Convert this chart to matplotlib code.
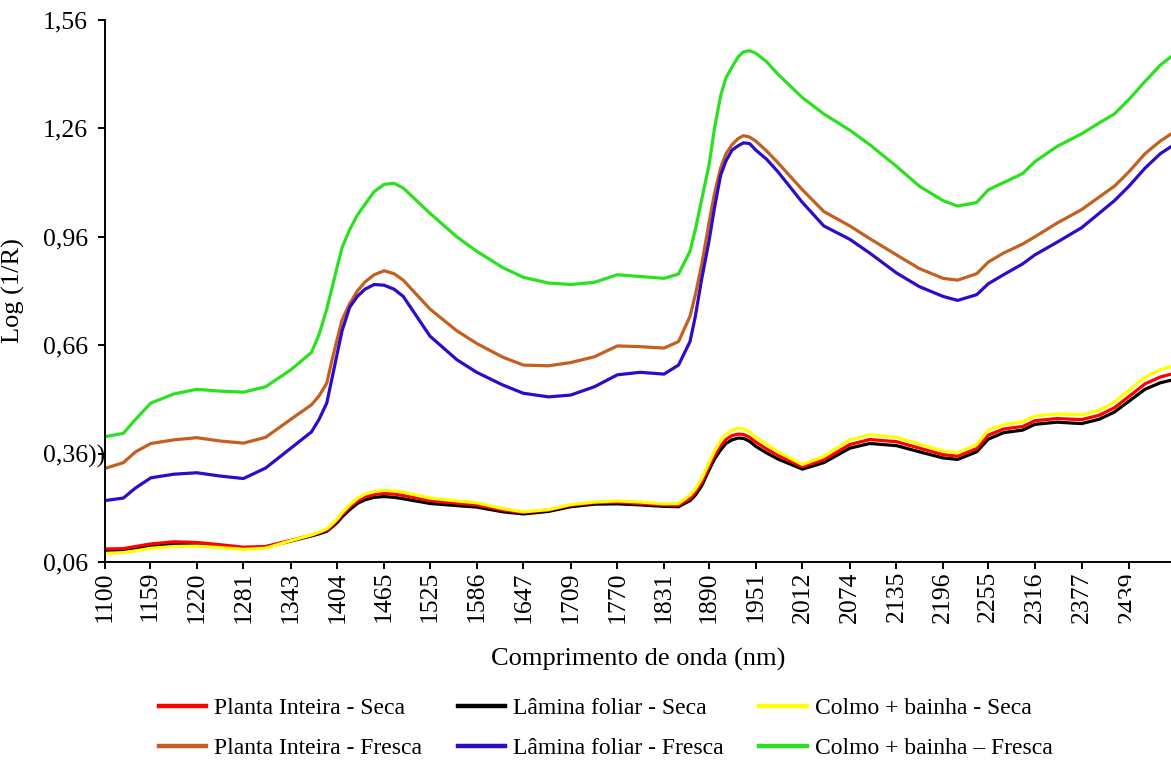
import matplotlib
matplotlib.use("Agg")
import matplotlib.pyplot as plt
from matplotlib.transforms import Bbox, IdentityTransform, TransformedBbox

plt.rcParams['font.family'] = ['Liberation Serif', 'DejaVu Serif']

# comprimento de onda (nm)
wl = [1100, 1124, 1140, 1160, 1190, 1220, 1250, 1281, 1310, 1343, 1370,
      1380, 1390, 1397, 1404, 1410, 1420, 1430, 1440, 1452, 1465, 1478, 1490,
      1525, 1560, 1586, 1620, 1647, 1680, 1709, 1740, 1770, 1800, 1831, 1850, 1865,
      1872, 1880, 1890, 1897, 1905, 1912, 1920, 1928, 1935, 1943, 1951, 1965,
      1980, 2012, 2040, 2074, 2100, 2135, 2165, 2196, 2215, 2240, 2255, 2275,
      2300, 2316, 2345, 2377, 2400, 2420, 2439, 2460, 2480, 2498]

# log(1/R) - amostras secas
planta_seca = [0.096, 0.097, 0.103, 0.110, 0.116, 0.114, 0.108, 0.101, 0.103, 0.120, 0.134,
               0.141, 0.148, 0.161, 0.175, 0.191, 0.212, 0.229, 0.240, 0.247, 0.250, 0.248, 0.244,
               0.230, 0.223, 0.218, 0.204, 0.197, 0.204, 0.217, 0.224, 0.226, 0.222, 0.218, 0.217, 0.236,
               0.253, 0.279, 0.325, 0.355, 0.382, 0.399, 0.410, 0.414, 0.413, 0.405, 0.392, 0.373,
               0.355, 0.324, 0.343, 0.385, 0.399, 0.393, 0.375, 0.357, 0.353, 0.374, 0.411, 0.428,
               0.435, 0.451, 0.457, 0.454, 0.466, 0.487, 0.518, 0.553, 0.572, 0.582]
lamina_seca = [0.090, 0.091, 0.097, 0.104, 0.110, 0.108, 0.103, 0.097, 0.101, 0.118, 0.132,
               0.138, 0.145, 0.157, 0.170, 0.185, 0.205, 0.222, 0.232, 0.239, 0.241, 0.239, 0.235,
               0.222, 0.216, 0.212, 0.199, 0.193, 0.200, 0.213, 0.220, 0.221, 0.218, 0.214, 0.213, 0.230,
               0.245, 0.270, 0.315, 0.345, 0.370, 0.388, 0.398, 0.403, 0.402, 0.394, 0.380, 0.362,
               0.345, 0.317, 0.335, 0.375, 0.388, 0.382, 0.365, 0.348, 0.344, 0.365, 0.400, 0.418,
               0.425, 0.441, 0.447, 0.443, 0.455, 0.475, 0.505, 0.538, 0.556, 0.565]
colmo_seca = [0.084, 0.086, 0.091, 0.098, 0.103, 0.104, 0.100, 0.095, 0.098, 0.119, 0.135,
              0.143, 0.152, 0.165, 0.180, 0.196, 0.218, 0.236, 0.248, 0.255, 0.258, 0.257, 0.253,
              0.237, 0.229, 0.224, 0.208, 0.199, 0.205, 0.219, 0.226, 0.229, 0.226, 0.221, 0.222, 0.245,
              0.262, 0.290, 0.335, 0.367, 0.395, 0.413, 0.425, 0.430, 0.428, 0.420, 0.405, 0.386,
              0.365, 0.330, 0.352, 0.398, 0.412, 0.405, 0.386, 0.367, 0.362, 0.385, 0.425, 0.440,
              0.448, 0.464, 0.470, 0.467, 0.480, 0.502, 0.535, 0.572, 0.592, 0.603]

# log(1/R) - amostras frescas
planta_fresca = [0.319, 0.335, 0.365, 0.388, 0.398, 0.404, 0.395, 0.389, 0.405, 0.455, 0.495,
                 0.520, 0.555, 0.620, 0.680, 0.730, 0.775, 0.810, 0.835, 0.855, 0.866, 0.858, 0.840,
                 0.760, 0.700, 0.665, 0.627, 0.605, 0.603, 0.612, 0.628, 0.658, 0.656, 0.652, 0.670, 0.740,
                 0.800, 0.880, 1.000, 1.080, 1.150, 1.190, 1.215, 1.232, 1.240, 1.236, 1.225, 1.198,
                 1.165, 1.090, 1.030, 0.990, 0.955, 0.910, 0.872, 0.845, 0.840, 0.858, 0.890, 0.915,
                 0.940, 0.960, 0.998, 1.035, 1.070, 1.100, 1.140, 1.190, 1.225, 1.250]
lamina_fresca = [0.230, 0.237, 0.265, 0.293, 0.303, 0.307, 0.298, 0.291, 0.320, 0.375, 0.420,
                 0.455, 0.500, 0.570, 0.640, 0.700, 0.765, 0.795, 0.815, 0.828, 0.826, 0.815, 0.795,
                 0.685, 0.620, 0.585, 0.550, 0.527, 0.517, 0.522, 0.545, 0.578, 0.585, 0.580, 0.605, 0.670,
                 0.740, 0.840, 0.950, 1.040, 1.130, 1.170, 1.200, 1.212, 1.220, 1.218, 1.200, 1.175,
                 1.140, 1.055, 0.990, 0.953, 0.915, 0.860, 0.822, 0.795, 0.784, 0.800, 0.830, 0.855,
                 0.885, 0.910, 0.945, 0.985, 1.025, 1.060, 1.100, 1.150, 1.190, 1.215]
colmo_fresca = [0.407, 0.416, 0.455, 0.500, 0.525, 0.538, 0.533, 0.530, 0.545, 0.592, 0.640,
                0.690, 0.760, 0.820, 0.880, 0.930, 0.980, 1.020, 1.050, 1.085, 1.105, 1.108, 1.095,
                1.025, 0.960, 0.920, 0.875, 0.848, 0.832, 0.828, 0.834, 0.855, 0.850, 0.845, 0.857, 0.920,
                0.980, 1.060, 1.160, 1.260, 1.350, 1.400, 1.430, 1.458, 1.472, 1.475, 1.468, 1.445,
                1.410, 1.345, 1.300, 1.255, 1.215, 1.155, 1.100, 1.060, 1.045, 1.055, 1.090, 1.110,
                1.135, 1.168, 1.210, 1.245, 1.275, 1.300, 1.340, 1.390, 1.435, 1.465]

xticks = [1100, 1159, 1220, 1281, 1343, 1404, 1465, 1525, 1586, 1647, 1709, 1770,
          1831, 1890, 1951, 2012, 2074, 2135, 2196, 2255, 2316, 2377, 2439]
yticks = [0.06, 0.36, 0.66, 0.96, 1.26, 1.56]
ylabels = ['0,06', '0,36))', '0,66', '0,96', '1,26', '1,56']

fig = plt.figure(figsize=(11.71, 7.6), dpi=100)
ax = fig.add_axes([105 / 1171, 198 / 760, 1066 / 1171, 542 / 760])

lw = 2.3
ax.plot(wl, colmo_fresca, color='#2BE11F', lw=lw, label='Colmo + bainha \u2013 Fresca')
ax.plot(wl, planta_fresca, color='#C4601F', lw=lw, label='Planta Inteira - Fresca')
ax.plot(wl, lamina_fresca, color='#2E0BCB', lw=lw, label='Lâmina foliar - Fresca')
ax.plot(wl, lamina_seca, color='#000000', lw=lw, label='Lâmina foliar - Seca')
ax.plot(wl, planta_seca, color='#FF0000', lw=lw, label='Planta Inteira - Seca')
ax.plot(wl, colmo_seca, color='#FFFF00', lw=lw, label='Colmo + bainha - Seca')

ax.set_xlim(1100, 2494)
ax.set_ylim(0.06, 1.56)
ax.spines['top'].set_visible(False)
ax.spines['right'].set_visible(False)
ax.spines['left'].set_linewidth(1.4)
ax.spines['bottom'].set_linewidth(1.4)

ax.set_xticks(xticks)
ax.set_xticklabels([str(t) for t in xticks], rotation=90)
ax.set_yticks(yticks)
ax.set_yticklabels(ylabels)
ax.tick_params(axis='x', direction='out', length=5, width=1.4, pad=1.5, labelsize=18.5)
ax.tick_params(axis='y', direction='out', length=5, width=1.4, pad=40, labelsize=18.5)
for lbl in ax.get_yticklabels():
    lbl.set_horizontalalignment('left')

# ultimo rotulo cortado pela borda do grafico
last = ax.get_xticklabels()[-1]
last.set_clip_on(True)
last.set_clip_box(TransformedBbox(Bbox([[0, 0], [1131, 760]]), IdentityTransform()))

ax.set_xlabel('Comprimento de onda (nm)', fontsize=19)
ax.set_ylabel('Log (1/R)', fontsize=19)
ax.xaxis.set_label_coords(0.5, -0.159)
ax.yaxis.set_label_coords(-0.075, 0.5)

h, l = ax.get_legend_handles_labels()
order = ['Planta Inteira - Seca', 'Planta Inteira - Fresca',
         'Lâmina foliar - Seca', 'Lâmina foliar - Fresca',
         'Colmo + bainha - Seca', 'Colmo + bainha \u2013 Fresca']
hs = [h[l.index(o)] for o in order]
leg = fig.legend(hs, order, ncol=3, loc='center', bbox_to_anchor=(0.5173, 0.0415),
                 frameon=False, fontsize=17, handlelength=2.0, handletextpad=0.35,
                 columnspacing=1.5, labelspacing=0.8)
for line in leg.get_lines():
    line.set_linewidth(3.2)

fig.savefig('out.png', dpi=100)
